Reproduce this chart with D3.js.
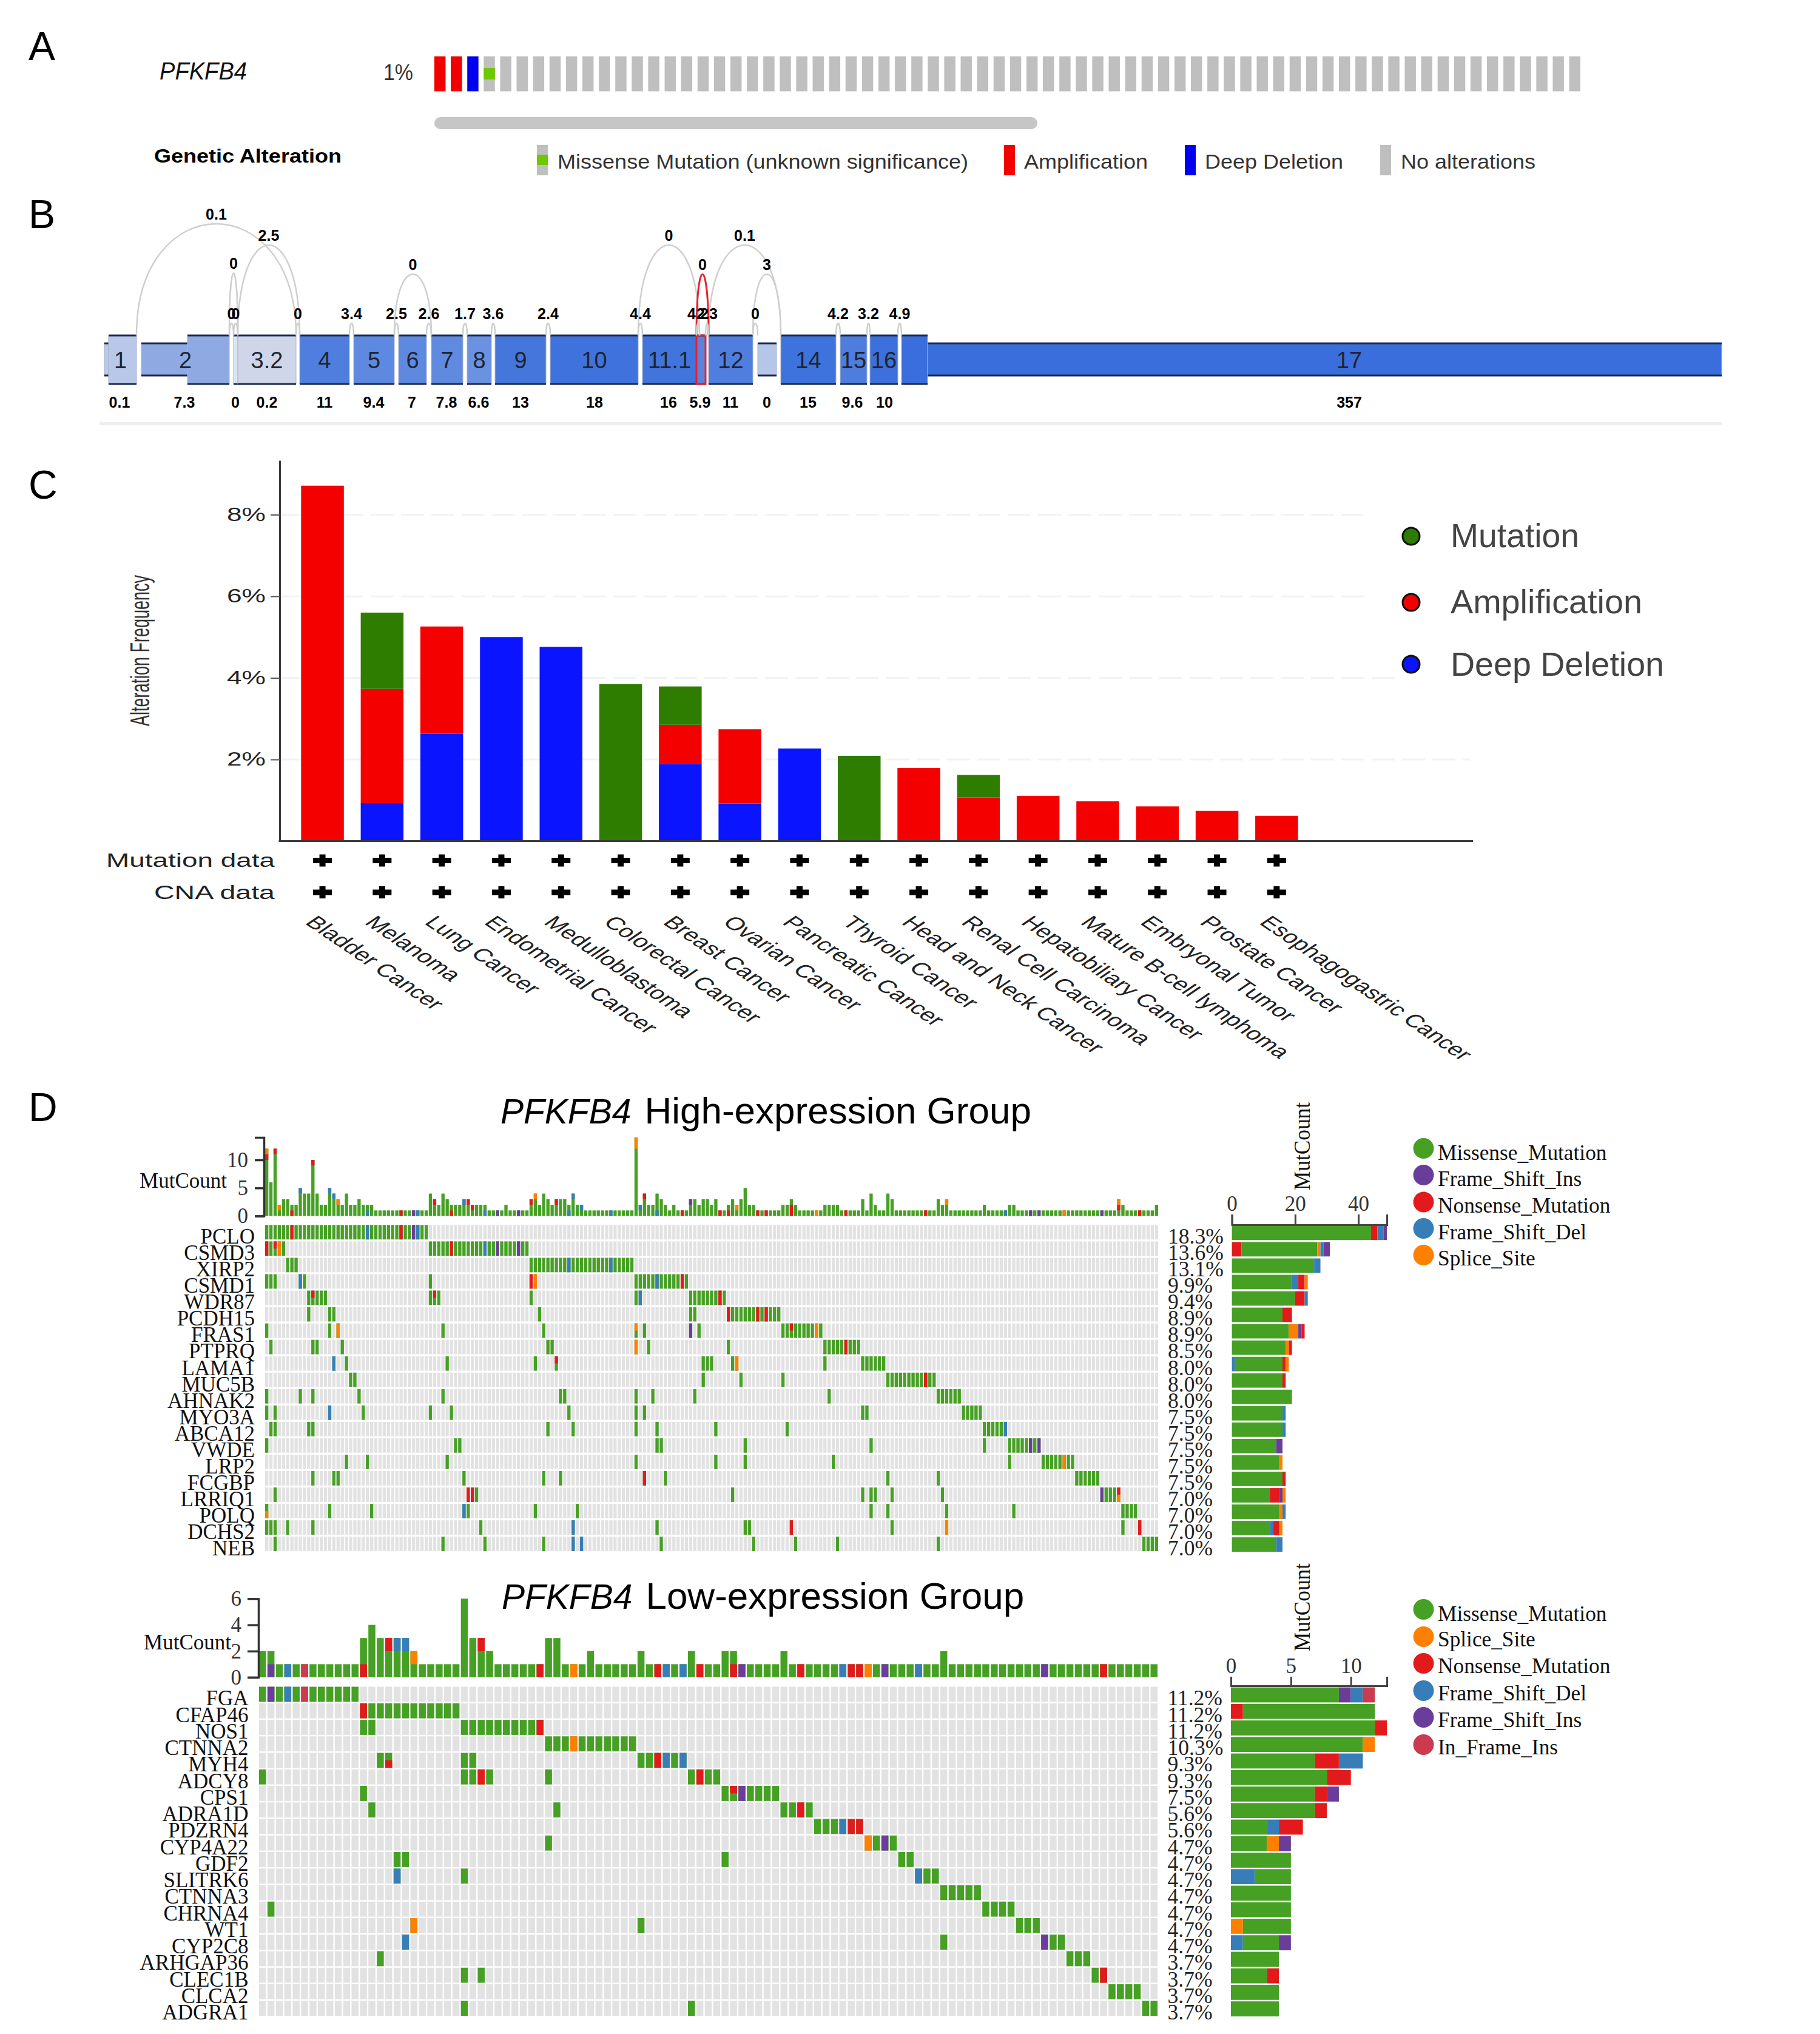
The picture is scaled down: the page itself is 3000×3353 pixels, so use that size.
<!DOCTYPE html>
<html><head><meta charset="utf-8">
<script src="https://cdn.jsdelivr.net/npm/d3@7/dist/d3.min.js"></script>
<style>html,body{margin:0;padding:0;background:#fff}svg{display:block}</style>
</head><body><div id="chart"></div>
<script>
// ---------- Panel A ----------
const oncoStatus = ["amp","amp","del","mis"].concat(Array(66).fill("none"));
const alterLegend = [["Missense Mutation (unknown significance)","mis"],["Amplification","amp"],["Deep Deletion","del"],["No alterations","none"]];
// ---------- Panel B (positions along the transcript) ----------
const exonNames  = ["1","2","","3.2","4","5","6","7","8","9","10","11.1","","12","","14","15","16","17"];
const exonStart  = [15,145,221,228,330,419,493,547,606,652,743,895,984,1004,1085,1123,1221,1270,1322];
const exonEnd    = [61,214,228,324,412,486,539,599,646,736,888,984,999,1077,1116,1214,1265,1316,1365];
const utrStart   = [8,69,null,null,null,null,null,null,null,null,null,null,null,null,1085,null,null,null,1365];
const utrEnd     = [15,145,null,null,null,null,null,null,null,null,null,null,null,null,1116,null,null,null,2674];
const exonColor  = ["#b9c8e9","#8faae2","#dfe4f1","#cfd6ea","#4f7ede","#5e89e0","#5e89e0","#5f8ae0","#6a92e2","#4576dc","#3f72dc","#4175dc","#5a83dc","#4f7ede","#b5c6e8","#3e72dc","#4e7ddd","#3c70dc","#3a6edc"];
const exonCounts = ["0.1","7.3","0","0.2","11","9.4","7","7.8","6.6","13","18","16","5.9","11","0","15","9.6","10","357"];
const countPos   = [33,140,224,276,371,452,515,572,625,694,816,938,990,1040,1100,1168,1241,1294,2060];
const juncFrom   = [61,228,214,486,888,1004,1077,984,214,221,324,412,486,539,599,646,736,888,984,999,1077,1214,1265,1316];
const juncTo     = [324,330,228,547,989,1123,1123,1004,221,228,330,419,493,547,606,652,743,895,989,1004,1085,1221,1270,1322];
const juncApex   = [369,404,450,452,404,404,452,452,533,533,533,533,533,533,533,533,533,533,533,533,533,533,533,533];
const juncLabel  = ["0.1","2.5","0","0","0","0.1","3","0","0","0","0","3.4","2.5","2.6","1.7","3.6","2.4","4.4","4.2","2.3","0","4.2","3.2","4.9"];
const juncRed    = [7];
// ---------- Panel C ----------
const cancers = ["Bladder Cancer","Melanoma","Lung Cancer","Endometrial Cancer","Medulloblastoma","Colorectal Cancer","Breast Cancer","Ovarian Cancer","Pancreatic Cancer","Thyroid Cancer","Head and Neck Cancer","Renal Cell Carcinoma","Hepatobiliary Cancer","Mature B-cell lymphoma","Embryonal Tumor","Prostate Cancer","Esophagogastric Cancer"];
const freqDeletion = [0,0.93,2.63,5.0,4.76,0,1.89,0.92,2.27,0,0,0,0,0,0,0,0];
const freqAmplification = [8.71,2.80,2.63,0,0,0,0.96,1.82,0,0,1.79,1.07,1.11,0.975,0.85,0.74,0.62];
const freqMutation = [0,1.87,0,0,0,3.85,0.94,0,0,2.09,0,0.55,0,0,0,0,0];
const freqTicks = [2,4,6,8];
const gridEnd = {2:2424,4:2300,6:2257,8:2247};
// ---------- Panel D colours ----------
const typeColor = {M:"#46a024",N:"#e31a1c",D:"#377eb8",I:"#6a3d9a",S:"#ff7f00",F:"#cc3a50"};
const typeName  = {M:"Missense_Mutation",N:"Nonsense_Mutation",D:"Frame_Shift_Del",I:"Frame_Shift_Ins",S:"Splice_Site",F:"In_Frame_Ins"};
// ---------- Panel D, high expression ----------
const highGenes = ["PCLO","CSMD3","XIRP2","CSMD1","WDR87","PCDH15","FRAS1","PTPRQ","LAMA1","MUC5B","AHNAK2","MYO3A","ABCA12","VWDE","LRP2","FCGBP","LRRIQ1","POLQ","DCHS2","NEB"];
const highPct = ["18.3%","13.6%","13.1%","9.9%","9.4%","8.9%","8.9%","8.5%","8.0%","8.0%","8.0%","7.5%","7.5%","7.5%","7.5%","7.5%","7.0%","7.0%","7.0%","7.0%"];
const highCols = [
[0,1,2,3,4,5,6,7,8,9,10,11,12,13,14,15,16,17,18,19,20,21,22,23,24,25,26,27,28,29,30,31,32,33,34,35,36,37,38],
[0,1,2,3,4,39,40,41,42,43,44,45,46,47,48,49,50,51,52,53,54,55,56,57,58,59,60,61,62],
[5,6,7,63,64,65,66,67,68,69,70,71,72,73,74,75,76,77,78,79,80,81,82,83,84,85,86,87],
[0,1,2,8,9,39,63,64,88,89,90,91,92,93,94,95,96,97,98,99,100],
[10,11,12,13,14,39,40,41,63,88,89,101,102,103,104,105,106,107,108,109],
[10,15,16,65,101,102,110,111,112,113,114,115,116,117,118,119,120,121,122],
[0,15,17,42,66,88,90,101,103,123,124,125,126,127,128,129,130,131,132],
[1,11,12,18,67,68,88,91,110,133,134,135,136,137,138,139,140,141],
[16,19,43,64,69,104,105,106,111,112,133,142,143,144,145,146,147],
[20,21,104,113,123,148,149,150,151,152,153,154,155,156,157,158,159],
[0,8,11,22,42,70,71,88,92,102,134,160,161,162,163,164,165],
[0,2,15,23,39,44,72,88,90,142,143,166,167,168,169,170],
[1,2,10,11,67,73,88,93,107,124,171,172,173,174,175,176],
[0,45,46,93,94,114,144,171,177,178,179,180,181,182,183,184],
[19,24,43,88,107,114,135,177,185,186,187,188,189,190,191,192],
[11,16,17,47,66,70,90,95,148,160,193,194,195,196,197,198],
[2,48,49,50,111,142,144,145,149,161,199,200,201,202,203],
[0,15,25,47,48,64,74,144,148,162,178,204,205,206,207],
[0,1,2,5,11,51,73,93,114,115,125,149,162,204,208],
[2,42,52,66,73,75,94,116,126,136,160,209,210,211,212]];
const highOther = [[0,6,"N"],[0,24,"D"],[0,32,"N"],[0,35,"I"],[0,36,"D"],[1,0,"N"],[1,2,"N","t"],[1,3,"S"],[1,44,"N"],[1,52,"D"],[1,55,"I"],[1,60,"I"],[2,72,"D"],[2,82,"D"],[3,8,"D"],[3,63,"N"],[3,64,"S"],[3,93,"D"],[3,99,"N"],[4,11,"N","t"],[4,40,"N","t"],[4,89,"D"],[4,108,"N"],[5,110,"N"],[5,117,"N"],[5,119,"N"],[6,17,"S"],[6,88,"S","t"],[6,101,"I"],[6,125,"N","t"],[6,131,"S"],[7,88,"S"],[7,138,"N"],[8,16,"D"],[8,69,"N","t"],[8,112,"S"],[9,157,"N"],[11,15,"D"],[12,176,"D"],[13,182,"I"],[13,184,"I"],[14,190,"S"],[15,90,"N"],[16,48,"N"],[16,49,"N"],[16,199,"I"],[16,203,"N","t"],[16,203,"S","b"],[17,0,"S","b"],[17,47,"D"],[18,73,"D"],[18,125,"N"],[18,162,"S"],[18,208,"N"],[19,73,"D"],[19,75,"D"]];
const highCounts = [12,6,12,2,3,3,2,2,5,4,4,10,4,2,2,5,4,3,2,4,2,2,3,2,2,2,
1,1,1,1,1,1,1,1,1,1,1,1,1,
4,3,2,4,3,2,2,2,3,3,2,2,2,2,1,1,1,1,2,1,1,1,1,1,
3,4,2,4,3,2,3,3,3,2,4,2,2,1,1,1,1,1,1,1,1,1,1,1,1,14,
2,4,2,2,4,3,2,1,2,1,1,1,
3,3,2,3,3,2,3,1,1,2,3,2,3,5,2,2,
1,1,1,1,1,1,
2,2,3,2,1,1,1,1,1,1,2,2,2,2,
1,1,1,1,1,
3,1,4,2,1,1,4,3,
1,1,1,1,1,1,1,1,1,1,
3,2,3,
1,1,1,1,1,1,1,1,
2,1,1,1,1,1,2,2,
1,1,1,1,1,1,1,1,1,1,1,1,1,1,1,1,1,1,1,1,1,1,1,1,
3,2,1,1,1,1,1,1,1,2];
// [column, type, units below the segment, size]
const highTopOther = [[0,"N",10,1],[0,"S",11,1],[2,"N",11,1],[3,"S",1,1],[6,"N",0,1],[8,"D",4,1],[11,"N",9,1],[15,"D",4,1],[16,"D",3,1],[17,"S",2,1],[24,"D",0,1],[32,"N",0,1],[35,"I",0,1],[36,"D",0,1],[40,"N",2,1],[44,"N",0,1],[47,"D",2,1],[48,"N",2,1],[49,"N",1,1],[52,"D",0,1],[55,"I",0,1],[60,"I",0,1],[63,"N",2,1],[64,"S",3,1],[69,"N",2,1],[72,"D",0,1],[73,"D",3,1],[75,"D",1,1],[82,"D",0,1],[88,"S",12,2],[89,"D",1,1],[90,"N",3,1],[93,"D",0,1],[99,"N",0,1],[101,"I",2,1],[108,"N",0,1],[110,"N",0,1],[112,"S",1,1],[117,"N",0,1],[119,"N",0,1],[125,"N",0,2],[131,"S",0,1],[138,"N",0,1],[157,"N",0,1],[162,"S",2,1],[176,"D",0,1],[182,"I",0,1],[184,"I",0,1],[190,"S",0,1],[199,"I",0,1],[203,"N",1,1],[203,"S",2,1],[208,"N",0,1]];
const highBars = [[["M",44],["N",2],["D",2],["I",1]],[["N",3],["M",24],["S",1],["D",1],["I",2]],[["M",26],["D",2]],[["M",19],["D",2],["N",2],["S",1]],[["M",20],["N",3],["D",1]],[["M",16],["N",3]],[["M",18],["S",3],["I",1],["N",1]],[["M",17],["S",1],["N",1]],[["D",1],["M",15],["N",1],["S",1]],[["M",16],["N",1]],[["M",19]],[["M",16],["D",1]],[["M",16],["D",1]],[["M",14],["I",2]],[["M",15],["S",1]],[["M",16],["N",1]],[["M",12],["N",3],["I",1],["S",1]],[["M",15],["S",1],["D",1]],[["M",12],["D",1],["N",2],["S",1]],[["M",14],["D",2]]];
const highLegend = ["M","I","N","D","S"];
// ---------- Panel D, low expression ----------
const lowGenes = ["FGA","CFAP46","NOS1","CTNNA2","MYH4","ADCY8","CPS1","ADRA1D","PDZRN4","CYP4A22","GDF2","SLITRK6","CTNNA3","CHRNA4","WT1","CYP2C8","ARHGAP36","CLEC1B","CLCA2","ADGRA1"];
const lowPct = ["11.2%","11.2%","11.2%","10.3%","9.3%","9.3%","7.5%","5.6%","5.6%","4.7%","4.7%","4.7%","4.7%","4.7%","4.7%","4.7%","3.7%","3.7%","3.7%","3.7%"];
const lowCols = [
[0,1,2,3,4,5,6,7,8,9,10,11],
[12,13,14,15,16,17,18,19,20,21,22,23],
[12,13,24,25,26,27,28,29,30,31,32,33],
[34,35,36,37,38,39,40,41,42,43,44],
[14,15,24,25,45,46,47,48,49,50],
[0,24,25,26,27,34,51,52,53,54],
[12,55,56,57,58,59,60,61],
[13,35,62,63,64,65],
[66,67,68,69,70,71],
[34,72,73,74,75],
[16,17,55,76,77],
[16,24,78,79,80],
[81,82,83,84,85],
[1,86,87,88,89],
[18,45,90,91,92],
[17,81,93,94,95],
[14,96,97,98],
[24,26,99,100],
[101,102,103,104],
[24,51,105,106]];
const lowOther = [[0,1,"I"],[0,3,"D"],[0,5,"F"],[1,12,"N"],[2,33,"N"],[3,37,"S"],[4,15,"N","b"],[4,47,"N"],[4,48,"D"],[4,50,"D"],[5,26,"N"],[5,52,"N"],[6,56,"N","t"],[6,57,"I"],[7,64,"N"],[8,69,"D"],[8,70,"N"],[8,71,"N"],[9,72,"S"],[9,74,"I"],[11,16,"D"],[11,78,"D"],[14,18,"S"],[15,17,"D"],[15,93,"I"],[17,100,"N"]];
const lowCounts = [2,2,1,1,1,1,1,1,1,1,1,1,3,4,3,3,3,3,2,1,1,1,1,1,6,3,3,2,1,1,1,1,1,1,3,3,1,1,1,2,1,1,1,1,1,2,1,1,1,1,1,2,1,1,1,2,2,1,1,1,1,1,2,1,1,1,1,1,1,1,1,1,1,1,1,1,1,1,1,1,1,2,1,1,1,1,1,1,1,1,1,1,1,1,1,1,1,1,1,1,1,1,1,1,1,1,1];
const lowTopOther = [[1,"I",0,1],[3,"D",0,1],[5,"F",0,1],[12,"N",0,1],[15,"N",2,1],[16,"D",2,1],[17,"D",2,1],[18,"S",1,1],[26,"N",2,1],[33,"N",0,1],[37,"S",0,1],[47,"N",0,1],[48,"D",0,1],[50,"D",0,1],[52,"N",0,1],[56,"N",0,1],[57,"I",0,1],[64,"N",0,1],[69,"D",0,1],[70,"N",0,1],[71,"N",0,1],[72,"S",0,1],[74,"I",0,1],[78,"D",0,1],[93,"I",0,1],[100,"N",0,1]];
const lowBars = [[["M",9],["I",1],["D",1],["F",1]],[["N",1],["M",11]],[["M",12],["N",1]],[["M",11],["S",1]],[["M",7],["N",2],["D",2]],[["M",8],["N",2]],[["M",7],["N",1],["I",1]],[["M",7],["N",1]],[["M",3],["D",1],["N",2]],[["M",3],["S",1],["I",1]],[["M",5]],[["D",2],["M",3]],[["M",5]],[["M",5]],[["S",1],["M",4]],[["D",1],["M",3],["I",1]],[["M",4]],[["M",3],["N",1]],[["M",4]],[["M",4]]];
const lowLegend = ["M","S","N","D","I","F"];

// ============ drawing ============
const SANS = "'Liberation Sans',Arial,sans-serif", SERIF = "'Liberation Serif','Times New Roman',serif";
const svg = d3.select("#chart").append("svg").attr("width",3000).attr("height",3353).attr("viewBox","0 0 3000 3353").style("background","#fff");
function T(parent,str,x,y,size,o={}){
  const t = parent.append("text").attr("x",x).attr("y",y).attr("font-size",size)
    .attr("font-family",o.family||SANS).attr("fill",o.fill||"#000").text(str);
  if(o.anchor) t.attr("text-anchor",o.anchor);
  if(o.weight) t.attr("font-weight",o.weight);
  if(o.style) t.attr("font-style",o.style);
  if(o.len) t.attr("textLength",o.len).attr("lengthAdjust","spacingAndGlyphs");
  if(o.transform) t.attr("transform",o.transform);
  return t;
}
// panel letters
[["A",99],["B",376],["C",822],["D",1848]].forEach(([s,y])=>T(svg,s,47,y,66,{fill:"#000"}));

// ---- A ----
const gA = svg.append("g");
const xA = d3.scaleBand().domain(d3.range(oncoStatus.length)).range([716,2605]).paddingInner(0.32);
const aColor = {amp:"#f20000",del:"#0000f0",mis:"#bfbfbf",none:"#bfbfbf"};
gA.selectAll("rect.s").data(oncoStatus).join("rect").attr("class","s")
  .attr("x",(d,i)=>xA(i)).attr("y",93).attr("width",xA.bandwidth()).attr("height",57.5).attr("fill",d=>aColor[d]);
gA.selectAll("rect.m").data(oncoStatus.map((d,i)=>[d,i]).filter(d=>d[0]==="mis")).join("rect").attr("class","m")
  .attr("x",d=>xA(d[1])).attr("y",112).attr("width",xA.bandwidth()).attr("height",19).attr("fill","#6dc800");
gA.append("rect").attr("x",716).attr("y",193).attr("width",994).attr("height",20).attr("rx",10).attr("fill","#c6c6c6");
T(gA,"PFKFB4",263,131,40,{style:"italic",len:144,fill:"#111"});
T(gA,"1%",632,132,36,{len:49,fill:"#333"});
T(gA,"Genetic Alteration",254,268,32,{weight:"bold",len:309});
const legA = [[885,919,677],[1655,1688,204],[1953,1986,228],[2275,2309,222]];
alterLegend.forEach(([s,k],i)=>{
  const [sx,tx,tl]=legA[i];
  gA.append("rect").attr("x",sx).attr("y",239).attr("width",18).attr("height",50).attr("fill",k==="mis"?"#bfbfbf":aColor[k]);
  if(k==="mis") gA.append("rect").attr("x",sx).attr("y",255).attr("width",18).attr("height",17).attr("fill","#6dc800");
  T(gA,s,tx,278,34,{len:tl,fill:"#333"});
});

// ---- B ----
const gB = svg.append("g");
const xB = d3.scaleLinear().domain([0,2674]).range([164,2838]);
const EY0=553, EY1=633, UY0=566, UY1=619;
gB.append("rect").attr("x",xB(0)).attr("y",696).attr("width",xB(2674)-xB(0)).attr("height",5).attr("fill","#eeeeee");
function edged(x0,x1,y0,y1,fill){
  gB.append("rect").attr("x",x0).attr("y",y0).attr("width",x1-x0).attr("height",y1-y0).attr("fill",fill).attr("stroke","#aab4c8").attr("stroke-width",1);
  [y0,y1].forEach(y=>gB.append("line").attr("x1",x0).attr("x2",x1).attr("y1",y).attr("y2",y).attr("stroke","#1b2b4f").attr("stroke-width",3));
}
exonNames.forEach((n,i)=>{
  if(utrStart[i]!==null) edged(xB(utrStart[i]),xB(utrEnd[i]),UY0,UY1,exonColor[i]);
  if(i!==14) edged(xB(exonStart[i]),xB(exonEnd[i]),EY0,EY1,exonColor[i]);
});
gB.append("rect").attr("x",xB(984)).attr("y",EY0).attr("width",xB(999)-xB(984)).attr("height",EY1-EY0).attr("fill","none").attr("stroke","#e8202a").attr("stroke-width",3);
exonNames.forEach((n,i)=>{
  if(!n) return;
  const lo = i===18 ? exonStart[i] : (utrStart[i]!==null ? Math.min(utrStart[i],exonStart[i]) : exonStart[i]);
  const cx = i===18 ? xB(2060) : (xB(lo)+xB(exonEnd[i]))/2;
  T(gB,n,cx,607,38,{anchor:"middle",fill:"#1f2430"});
});
juncFrom.forEach((f,i)=>{
  const x1=xB(f),x2=xB(juncTo[i]),ya=juncApex[i],c=EY0-(EY0-ya)/0.75;
  const p=d3.path(); p.moveTo(x1,EY0); p.bezierCurveTo(x1,c,x2,c,x2,EY0);
  const red=juncRed.includes(i);
  gB.append("path").attr("d",p.toString()).attr("fill","none").attr("stroke",red?"#e8202a":"#cfcfcf").attr("stroke-width",red?3:2.5);
  if(juncLabel[i]){
    const mid=(x1+x2)/2, y=ya===533?526:ya-7;
    T(gB,juncLabel[i],mid,y,25,{anchor:"middle",weight:"bold"});
  }
});
exonCounts.forEach((s,i)=>T(gB,s,xB(countPos[i]),672,25,{anchor:"middle",weight:"bold"}));

// ---- C ----
const gC = svg.append("g");
const yC = d3.scaleLinear().domain([0,9.33]).range([1386.5,759]);
const xC = d3.scaleBand().domain(cancers).range([496.3,496.3+16*98.3+70.5]).paddingInner(1-70.5/98.3).paddingOuter(0);
freqTicks.forEach(t=>gC.append("line").attr("x1",461).attr("x2",gridEnd[t]).attr("y1",yC(t)).attr("y2",yC(t))
  .attr("stroke","#f3f3f3").attr("stroke-width",3).attr("stroke-dasharray","38,12"));
const cSeries=[["Deep Deletion",freqDeletion,"#0a14ff"],["Amplification",freqAmplification,"#f50000"],["Mutation",freqMutation,"#2e7d00"]];
const cStack=d3.stack().keys([0,1,2]).value((d,k)=>cSeries[k][1][d])(d3.range(cancers.length));
cStack.forEach((lay,k)=>{
  gC.selectAll("rect.l"+k).data(lay).join("rect").attr("class","l"+k)
    .attr("x",(d,i)=>xC(cancers[i])).attr("width",xC.bandwidth())
    .attr("y",d=>yC(d[1])).attr("height",d=>yC(d[0])-yC(d[1])).attr("fill",cSeries[k][2]);
});
const axC=gC.append("g").attr("transform","translate(461,0)").call(d3.axisLeft(yC).tickValues(freqTicks).tickSize(15).tickSizeOuter(0).tickPadding(8).tickFormat(d=>d+"%"));
axC.selectAll("path,line").attr("stroke","#3a3a3a").attr("stroke-width",3);
axC.selectAll("line").attr("stroke","#555").attr("stroke-width",2);
axC.selectAll("text").attr("font-family",SANS).attr("font-size",31).attr("fill","#222").attr("textLength",64).attr("lengthAdjust","spacingAndGlyphs");
gC.append("line").attr("x1",459.5).attr("x2",2428).attr("y1",yC(0)).attr("y2",yC(0)).attr("stroke","#3a3a3a").attr("stroke-width",3);
T(gC,"Alteration Frequency",0,0,44,{len:249,fill:"#333",anchor:"start",transform:"translate(246,1197) rotate(-90)"});
T(gC,"Mutation data",175,1429,31,{len:278,fill:"#222"});
T(gC,"CNA data",254,1482,31,{len:199,fill:"#222"});
[1418.5,1471].forEach(y=>cancers.forEach(c=>{
  const cx=xC(c)+xC.bandwidth()/2;
  gC.append("rect").attr("x",cx-15.5).attr("y",y-4.5).attr("width",31).attr("height",9).attr("fill","#000");
  gC.append("rect").attr("x",cx-5).attr("y",y-10).attr("width",10).attr("height",20).attr("fill","#000");
}));
cancers.forEach(c=>{
  const cx=xC(c)+xC.bandwidth()/2;
  T(gC,c,0,0,29.4,{fill:"#222",transform:`translate(${cx-30},1522) scale(1.47,1) rotate(45)`});
});
[["Mutation","#2e7d00",884,902,212],["Amplification","#f50000",993,1011,316],["Deep Deletion","#0a14ff",1095,1114,352]].forEach(([s,col,cy,b,l])=>{
  gC.append("circle").attr("cx",2326).attr("cy",cy).attr("r",14).attr("fill",col).attr("stroke","#111").attr("stroke-width",3);
  T(gC,s,2391,b,56,{len:l,fill:"#444"});
});

// ---- D ----
function onco(o){
  const g=svg.append("g");
  const n=o.counts.length;
  const x=d3.scaleBand().domain(d3.range(n)).range(o.heatX).paddingInner(o.gap).paddingOuter(0);
  const y=d3.scaleBand().domain(o.genes).range(o.heatY).paddingInner(o.rowGap).paddingOuter(0);
  const bw=x.bandwidth(), bh=y.bandwidth();
  // background
  o.genes.forEach(gn=>{
    g.append("g").selectAll("rect").data(d3.range(n)).join("rect")
      .attr("x",c=>x(c)).attr("y",y(gn)).attr("width",bw).attr("height",bh).attr("fill","#e2e2e2");
  });
  // mutated cells
  o.cols.forEach((cols,gi)=>{
    g.append("g").selectAll("rect").data(cols).join("rect")
      .attr("x",c=>x(c)).attr("y",y(o.genes[gi])).attr("width",bw).attr("height",bh).attr("fill",typeColor.M);
  });
  o.other.forEach(([gi,c,t,part])=>{
    const y0=y(o.genes[gi]);
    g.append("rect").attr("x",x(c)).attr("width",bw)
      .attr("y",part==="b"?y0+bh/2:y0).attr("height",part?bh/2:bh).attr("fill",typeColor[t]);
  });
  // top bars
  const yT=d3.scaleLinear().domain(o.topDomain).range(o.topRange);
  g.append("g").selectAll("rect").data(o.counts).join("rect")
    .attr("x",(d,i)=>x(i)).attr("width",bw).attr("y",d=>yT(d)).attr("height",d=>yT(0)-yT(d)).attr("fill",typeColor.M);
  o.topOther.forEach(([c,t,b,s])=>{
    g.append("rect").attr("x",x(c)).attr("width",bw).attr("y",yT(b+s)).attr("height",yT(b)-yT(b+s)).attr("fill",typeColor[t]);
  });
  const ax=g.append("g").attr("transform",`translate(${o.topAxisX},0)`)
    .call(d3.axisLeft(yT).tickValues(o.topTicks).tickSize(o.tickLen).tickSizeOuter(o.tickLen).tickPadding(o.tickPad).tickFormat(d3.format("d")));
  ax.selectAll("path,line").attr("stroke","#333").attr("stroke-width",3.5);
  ax.selectAll("text").attr("font-family",SERIF).attr("font-size",35).attr("fill","#333");
  T(g,"MutCount",o.mcX,o.mcY,35,{family:SERIF,len:144,fill:"#111"});
  // gene names + percent
  o.genes.forEach((gn,i)=>{
    T(g,gn,o.geneEnd,y(gn)+bh+o.labelDy,35,{family:SERIF,anchor:"end",fill:"#111"});
    T(g,o.pct[i],o.pctX,y(gn)+bh+o.pctDy,35.5,{family:SERIF,fill:"#222"});
  });
  // side bars
  const xS=d3.scaleLinear().domain(o.sideDomain).range(o.sideRange);
  o.bars.forEach((segs,i)=>{
    let acc=0;
    segs.forEach(([t,v])=>{
      g.append("rect").attr("x",xS(acc)).attr("width",xS(acc+v)-xS(acc)).attr("y",y(o.genes[i])+o.sideDy).attr("height",bh).attr("fill",typeColor[t]);
      acc+=v;
    });
  });
  const sa=g.append("g").attr("transform",`translate(0,${o.sideAxisY})`)
    .call(d3.axisTop(xS).tickValues(o.sideTicks).tickSize(o.sideTick).tickSizeOuter(o.sideTick).tickPadding(6));
  sa.selectAll("path,line").attr("stroke","#444").attr("stroke-width",3);
  sa.selectAll("text").attr("font-family",SERIF).attr("font-size",35).attr("fill","#333");
  T(g,"MutCount",0,0,38,{family:SERIF,len:145,fill:"#111",transform:`translate(2159,${o.mcSideBottom}) rotate(-90)`});
  // legend
  o.legend.forEach((k,i)=>{
    g.append("circle").attr("cx",2346.5).attr("cy",o.legY[i]).attr("r",17).attr("fill",typeColor[k]);
    T(g,typeName[k],2370,o.legB[i],35.3,{family:SERIF,fill:"#111"});
  });
  // title
  const tt=T(g,"",o.titleX,o.titleY,62,{fill:"#000"});
  tt.append("tspan").attr("font-style","italic").attr("font-size",57).text("PFKFB4");
  tt.append("tspan").attr("dx",22).text(o.title);
}
onco({genes:highGenes,pct:highPct,cols:highCols,other:highOther,counts:highCounts,topOther:highTopOther,bars:highBars,legend:highLegend,
  heatX:[437,1909],gap:0.23,heatY:[2019.4,2557],rowGap:0.12,
  topDomain:[0,14],topRange:[2004.6,1875],topTicks:[0,5,10],topAxisX:435,tickLen:15,tickPad:11,
  mcX:230,mcY:1958,geneEnd:420,labelDy:7,pctX:1925,pctDy:7,
  sideDomain:[0,49],sideRange:[2030.6,2286],sideTicks:[0,20,40],sideAxisY:2019,sideTick:17,sideDy:1,mcSideBottom:1962,
  legY:[1893,1937,1981.6,2025,2069],legB:[1912,1955,1999,2043,2086],
  title:"High-expression Group",titleX:825,titleY:1852});
onco({genes:lowGenes,pct:lowPct,cols:lowCols,other:lowOther,counts:lowCounts,topOther:lowTopOther,bars:lowBars,legend:lowLegend,
  heatX:[427,1908],gap:0.17,heatY:[2780.6,3323],rowGap:0.09,
  topDomain:[0,6],topRange:[2765,2635.4],topTicks:[0,2,4,6],topAxisX:426,tickLen:18,tickPad:10,
  mcX:237,mcY:2719,geneEnd:409.5,labelDy:6,pctX:1924.5,pctDy:6,
  sideDomain:[0,13],sideRange:[2029,2286],sideTicks:[0,5,10],sideAxisY:2779,sideTick:15,sideDy:1,mcSideBottom:2722,
  legY:[2653,2698,2742,2787,2831,2876],legB:[2672,2714,2758,2803,2847,2892],
  title:"Low-expression Group",titleX:827,titleY:2652});
</script></body></html>
